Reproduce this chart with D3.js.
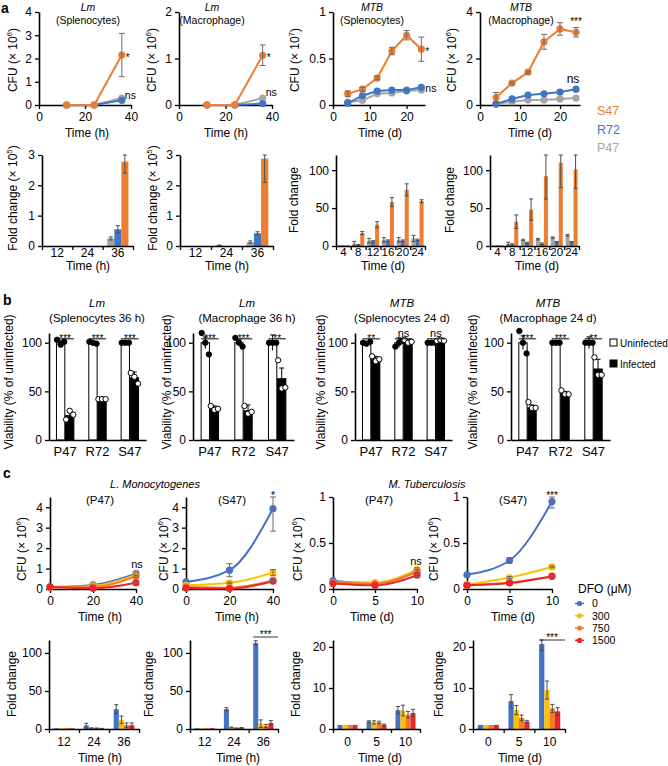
<!DOCTYPE html>
<html><head><meta charset="utf-8">
<script src="https://cdn.jsdelivr.net/npm/d3@7"></script>
<style>body{margin:0;background:#fff;}</style>
</head><body>
<script>
// ---------------- DATA ----------------
// Panel a (top): CFU time courses
const aLmHours = [12, 24, 36];
const aLmSpleS47 = [0, 0, 2.15], aLmSpleS47Err = [0, 0, 0.93];
const aLmSpleR72 = [0, 0, 0.2];
const aLmSpleP47 = [0, 0, 0.3];
const aLmMacS47 = [0, 0, 1.07], aLmMacS47Err = [0, 0, 0.22];
const aLmMacR72 = [0, 0, 0.03];
const aLmMacP47 = [0, 0, 0.15];
const aMtbDays = [4, 8, 12, 16, 20, 24];
const aMtbSpleS47 = [0.12, 0.17, 0.29, 0.58, 0.75, 0.60], aMtbSpleS47Err = [0.03, 0.02, 0.02, 0.04, 0.05, 0.13];
const aMtbSpleR72 = [0.02, 0.10, 0.15, 0.16, 0.16, 0.19];
const aMtbSpleP47 = [0.03, 0.05, 0.12, 0.13, 0.15, 0.16];
const aMtbMacS47 = [0.32, 0.94, 1.41, 2.72, 3.27, 3.13], aMtbMacS47Err = [0.22, 0.05, 0.05, 0.32, 0.27, 0.2];
const aMtbMacR72 = [0.05, 0.26, 0.43, 0.48, 0.56, 0.68];
const aMtbMacP47 = [0.04, 0.14, 0.21, 0.22, 0.26, 0.30];
const aStrains = ["S47", "R72", "P47"];

// Panel a (bottom): fold change
const aFoldLmHours = ["12", "24", "36"];
const aFoldLmSpleP47 = [0, 0, 0.25], aFoldLmSpleP47Err = [0, 0, 0.05];
const aFoldLmSpleR72 = [0, 0, 0.55], aFoldLmSpleR72Err = [0, 0, 0.12];
const aFoldLmSpleS47 = [0, 0, 2.78], aFoldLmSpleS47Err = [0, 0, 0.38];
const aFoldLmMacP47 = [0, 0.02, 0.13], aFoldLmMacP47Err = [0, 0.01, 0.04];
const aFoldLmMacR72 = [0, 0, 0.42], aFoldLmMacR72Err = [0, 0, 0.05];
const aFoldLmMacS47 = [0, 0, 2.88], aFoldLmMacS47Err = [0, 0, 0.78];
const aFoldMtbDays = ["4", "8", "12", "16", "20", "24"];
const aFoldMtbSpleP47 = [1, 3, 7, 8, 8, 10], aFoldMtbSpleP47Err = [0, 3, 3, 3, 3, 4];
const aFoldMtbSpleR72 = [1, 1, 6, 7, 7, 8], aFoldMtbSpleR72Err = [0, 1, 1, 1, 1, 1];
const aFoldMtbSpleS47 = [1, 17, 28, 58, 74, 59], aFoldMtbSpleS47Err = [0, 2, 4, 6, 8, 2];
const aFoldMtbMacP47 = [1, 3, 8, 9, 11, 14], aFoldMtbMacP47Err = [0, 2, 1, 1, 1, 1];
const aFoldMtbMacR72 = [1, 2, 4, 3, 5, 5], aFoldMtbMacR72Err = [0, 1, 1, 1, 1, 1];
const aFoldMtbMacS47 = [1, 32, 48, 92, 110, 101], aFoldMtbMacS47Err = [0, 9, 14, 30, 33, 25];

// Panel b: viability
const bStrains = ["P47", "R72", "S47"];
const bLmSpleUninf = [100, 100, 100], bLmSpleUninfErr = [2, 1, 0];
const bLmSpleInf = [25, 41, 64], bLmSpleInfErr = [4, 1, 6];
const bLmSpleUninfDots = [[103, 98, 101], [101, 100, 99], [100, 100, 100]];
const bLmSpleInfDots = [[21, 30, 26], [42, 42, 42], [69, 65, 58]];
const bLmSpleSig = ["***", "***", "***"];
const bLmMacUninf = [100, 100, 100], bLmMacUninfErr = [6, 3, 8];
const bLmMacInf = [33, 30, 63], bLmMacInfErr = [2, 6, 11];
const bLmMacUninfDots = [[110, 100, 88], [105, 100, 96], [100, 100, 100]];
const bLmMacInfDots = [[35, 31, 32], [35, 27, 29], [82, 53, 54]];
const bLmMacSig = ["***", "***", "**"];
const bMtbSpleUninf = [100, 100, 100], bMtbSpleUninfErr = [1, 5, 0];
const bMtbSpleInf = [83, 101, 102], bMtbSpleInfErr = [3, 2, 1];
const bMtbSpleUninfDots = [[100, 99, 101], [96, 100, 102], [100, 100, 100]];
const bMtbSpleInfDots = [[86, 81, 83], [103, 100, 101], [102, 103, 102]];
const bMtbSpleSig = ["**", "ns", "ns"];
const bMtbMacUninf = [100, 100, 100], bMtbMacUninfErr = [7, 1, 6];
const bMtbMacInf = [33, 48, 73], bMtbMacInfErr = [3, 2, 10];
const bMtbMacUninfDots = [[112, 100, 89], [100, 100, 100], [100, 100, 100]];
const bMtbMacInfDots = [[39, 33, 33], [51, 47, 47], [85, 67, 67]];
const bMtbMacSig = ["***", "***", "**"];
const bLegend = ["Uninfected", "Infected"];

// Panel c (top): CFU with DFO
const cDfoDoses = ["0", "300", "750", "1500"];
const cLmHours = [0, 20, 40];
const cLmP47D0 = [0.10, 0.20, 0.75], cLmP47D0Err = [0, 0, 0.12];
const cLmP47D300 = [0.08, 0.15, 0.69], cLmP47D300Err = [0, 0, 0.1];
const cLmP47D750 = [0.08, 0.10, 0.62], cLmP47D750Err = [0, 0, 0.05];
const cLmP47D1500 = [0.10, 0.04, 0.31], cLmP47D1500Err = [0, 0, 0.04];
const cLmS47D0 = [0.35, 0.92, 3.93], cLmS47D0Err = [0, 0.32, 1.1];
const cLmS47D300 = [0.18, 0.30, 0.80], cLmS47D300Err = [0, 0.04, 0.15];
const cLmS47D750 = [0.10, 0.06, 0.42], cLmS47D750Err = [0, 0, 0.05];
const cLmS47D1500 = [0.05, 0.02, 0.38], cLmS47D1500Err = [0, 0, 0.05];
const cMtbDays = [0, 5, 10];
const cMtbP47D0 = [0.09, 0.06, 0.19], cMtbP47D0Err = [0, 0, 0.02];
const cMtbP47D300 = [0.07, 0.07, 0.21], cMtbP47D300Err = [0, 0, 0.02];
const cMtbP47D750 = [0.07, 0.06, 0.19], cMtbP47D750Err = [0, 0, 0.02];
const cMtbP47D1500 = [0.06, 0.04, 0.15], cMtbP47D1500Err = [0, 0, 0.02];
const cMtbS47D0 = [0.155, 0.31, 0.95], cMtbS47D0Err = [0, 0.03, 0.07];
const cMtbS47D300 = [0.05, 0.125, 0.24], cMtbS47D300Err = [0, 0.01, 0.01];
const cMtbS47D750 = [0.04, 0.07, 0.14], cMtbS47D750Err = [0, 0, 0.01];
const cMtbS47D1500 = [0.04, 0.065, 0.137], cMtbS47D1500Err = [0, 0, 0.01];

// Panel c (bottom): fold change with DFO
const cFoldLmHours = ["12", "24", "36"];
const cFoldLmP47D0 = [1, 4.5, 26], cFoldLmP47D0Err = [0, 3, 6];
const cFoldLmP47D300 = [1, 1, 12], cFoldLmP47D300Err = [0, 0.5, 5];
const cFoldLmP47D750 = [1, 1, 5], cFoldLmP47D750Err = [0, 0.3, 3];
const cFoldLmP47D1500 = [1, 0.5, 5], cFoldLmP47D1500Err = [0, 0.3, 3];
const cFoldLmS47D0 = [1, 26, 113], cFoldLmS47D0Err = [0, 2, 3];
const cFoldLmS47D300 = [1, 2, 7], cFoldLmS47D300Err = [0, 0.5, 5];
const cFoldLmS47D750 = [1, 1, 4], cFoldLmS47D750Err = [0, 0.3, 2];
const cFoldLmS47D1500 = [1, 1.5, 8], cFoldLmS47D1500Err = [0, 0.5, 3];
const cFoldMtbDays = ["0", "5", "10"];
const cFoldMtbP47D0 = [1, 1.8, 4.6], cFoldMtbP47D0Err = [0, 0.2, 0.9];
const cFoldMtbP47D300 = [1, 1.6, 4.5], cFoldMtbP47D300Err = [0, 0.4, 1.3];
const cFoldMtbP47D750 = [1, 1.6, 3.5], cFoldMtbP47D750Err = [0, 0.3, 0.8];
const cFoldMtbP47D1500 = [1, 1.0, 3.9], cFoldMtbP47D1500Err = [0, 0.2, 0.9];
const cFoldMtbS47D0 = [1, 6.8, 20.7], cFoldMtbS47D0Err = [0, 1.6, 1.5];
const cFoldMtbS47D300 = [1, 4.6, 9.5], cFoldMtbS47D300Err = [0, 1.1, 2.2];
const cFoldMtbS47D750 = [1, 2.7, 5.0], cFoldMtbS47D750Err = [0, 0.7, 1.0];
const cFoldMtbS47D1500 = [1, 1.8, 4.3], cFoldMtbS47D1500Err = [0, 0.3, 0.9];

// ---------------- STYLE ----------------
const FF = "'Liberation Sans', Arial, Helvetica, sans-serif";
const COL = {S47: "#ED7D31", R72: "#4472C4", P47: "#A5A5A5"};
const DCOL = ["#4472C4", "#FFC000", "#ED7D31", "#E8262B"];

const svg = d3.select("body").append("svg").attr("width", 668).attr("height", 766)
  .style("font-family", FF).style("display", "block");

function styleAxis(g) {
  g.attr("font-family", FF).attr("font-size", 12);
  g.select(".domain").attr("stroke", "#000").attr("stroke-width", 1.6);
  g.selectAll(".tick line").attr("stroke", "#000").attr("stroke-width", 1.3);
  g.selectAll(".tick text").attr("fill", "#000");
}
function txt(x, y, s, o = {}) {
  return svg.append("text").attr("x", x).attr("y", y)
    .attr("text-anchor", o.anchor || "middle").attr("font-size", o.size || 12)
    .attr("font-style", o.italic ? "italic" : null).attr("font-weight", o.bold ? "bold" : null)
    .attr("fill", o.color || "#000").text(s);
}
function yLabel(cx, cy, main, sup, tail) {
  const t = svg.append("text").attr("transform", `translate(${cx},${cy}) rotate(-90)`)
    .attr("text-anchor", "middle").attr("font-size", 12).attr("dy", "0.35em");
  t.append("tspan").text(main);
  if (sup) {
    t.append("tspan").attr("font-size", 8).attr("dy", -5).text(sup);
    t.append("tspan").attr("dy", 5).text(tail);
  }
}
const fmt = d => String(d);

function lineChart(o) {
  const x = d3.scaleLinear().domain(o.xd).range(o.xr);
  const y = d3.scaleLinear().domain(o.yd).range(o.yr);
  const g = svg.append("g");
  g.append("g").attr("transform", `translate(0,${o.yr[0]})`)
    .call(d3.axisBottom(x).tickValues(o.xt).tickSize(4).tickSizeOuter(0).tickFormat(fmt)).call(styleAxis);
  g.append("g").attr("transform", `translate(${o.xr[0]},0)`)
    .call(d3.axisLeft(y).tickValues(o.yt).tickSize(4).tickSizeOuter(0).tickFormat(fmt)).call(styleAxis);
  const line = d3.line().x(d => x(d.t)).y(d => y(d.v)).curve(o.curve || d3.curveLinear);
  o.series.forEach(s => {
    const pts = s.t.map((t, i) => ({t, v: s.v[i], e: s.e ? s.e[i] : 0}));
    g.append("path").attr("d", line(pts)).attr("fill", "none").attr("stroke", s.c).attr("stroke-width", 2);
    g.selectAll(null).data(pts).join("circle").attr("cx", d => x(d.t)).attr("cy", d => y(d.v))
      .attr("r", 3.6).attr("fill", s.c);
    g.selectAll(null).data(pts.filter(d => d.e > 0)).join("path")
      .attr("d", d => {
        const X = x(d.t), a = y(Math.min(d.v + d.e, o.yd[1])), b = y(Math.max(d.v - d.e, 0));
        return `M${X},${a}V${b}M${X - 3},${a}H${X + 3}M${X - 3},${b}H${X + 3}`;
      }).attr("stroke", "#6b6b6b").attr("stroke-width", 1).attr("fill", "none");
  });
  return {x, y};
}

function barChart(o) {
  const x0 = d3.scaleBand().domain(o.cats).range(o.xr);
  const y = d3.scaleLinear().domain(o.yd).range(o.yr);
  const n = o.series.length;
  const x1 = d3.scaleBand().domain(d3.range(n)).range([0, x0.bandwidth()]).paddingOuter(o.po).paddingInner(o.pi || 0);
  const g = svg.append("g");
  o.series.forEach((s, k) => {
    const data = o.cats.map((c, i) => ({c, v: s.v[i], e: s.e ? s.e[i] : 0}));
    g.selectAll(null).data(data).join("rect")
      .attr("x", d => x0(d.c) + x1(k)).attr("width", x1.bandwidth())
      .attr("y", d => y(d.v)).attr("height", d => y(0) - y(d.v)).attr("fill", s.c);
  });
  o.series.forEach((s, k) => {
    const data = o.cats.map((c, i) => ({c, v: s.v[i], e: s.e ? s.e[i] : 0})).filter(d => d.e > 0);
    g.selectAll(null).data(data).join("path")
      .attr("d", d => {
        const X = x0(d.c) + x1(k) + x1.bandwidth() / 2;
        const a = y(Math.min(d.v + d.e, o.yd[1])), b = y(Math.max(d.v - d.e, 0));
        return `M${X},${a}V${b}M${X - 2},${a}H${X + 2}M${X - 2},${b}H${X + 2}`;
      }).attr("stroke", "#4d4d4d").attr("stroke-width", 1).attr("fill", "none");
  });
  // x axis: boundary ticks + category labels
  const xb = d3.scaleLinear().domain([0, o.cats.length]).range(o.xr);
  g.append("g").attr("transform", `translate(0,${o.yr[0]})`)
    .call(d3.axisBottom(xb).ticks(o.cats.length).tickSize(4).tickSizeOuter(0).tickFormat("")).call(styleAxis);
  const gl = g.append("g").attr("transform", `translate(0,${o.yr[0]})`)
    .call(d3.axisBottom(x0).tickSize(0).tickPadding(o.tp)).call(styleAxis);
  gl.attr("font-size", o.fs || 12);
  gl.select(".domain").remove();
  g.append("g").attr("transform", `translate(${o.xr[0]},0)`)
    .call(d3.axisLeft(y).tickValues(o.yt).tickSize(4).tickSizeOuter(0).tickFormat(fmt)).call(styleAxis);
  return {x0, x1, y};
}

function viaChart(o) {
  const x0 = d3.scaleBand().domain(bStrains).range(o.xr);
  const y = d3.scaleLinear().domain([0, 110]).range([440, 333]);
  const g = svg.append("g");
  bStrains.forEach((c, i) => {
    const cx = x0(c) + x0.bandwidth() / 2;
    const x1 = d3.scaleBand().domain(bLegend).range([cx - 8.7, cx + 8.7]).paddingInner(0.08);
    const w = x1.bandwidth();
    const bars = [
      {k: bLegend[0], v: o.un[i], e: o.unE[i], dots: o.unD[i], fill: "#fff"},
      {k: bLegend[1], v: o.inf[i], e: o.infE[i], dots: o.infD[i], fill: "#000"}
    ];
    bars.forEach(b => {
      const bx = x1(b.k);
      g.append("rect").attr("x", bx).attr("y", y(b.v)).attr("width", w).attr("height", y(0) - y(b.v))
        .attr("fill", b.fill).attr("stroke", "#000").attr("stroke-width", 1);
      const X = bx + w / 2;
      g.append("path").attr("d", `M${X},${y(b.v + b.e)}V${y(b.v - b.e)}M${X - 2.5},${y(b.v + b.e)}H${X + 2.5}`)
        .attr("stroke", "#000").attr("stroke-width", 1).attr("fill", "none");
      g.selectAll(null).data(b.dots).join("circle")
        .attr("cx", (d, j) => X + (j - 1) * 3.6).attr("cy", d => y(d)).attr("r", 2.7)
        .attr("fill", b.fill === "#000" ? "#fff" : "#000").attr("stroke", "#000").attr("stroke-width", 1);
    });
    const ly = y(104);
    g.append("line").attr("x1", x1(bLegend[0])).attr("x2", x1(bLegend[1]) + w).attr("y1", ly).attr("y2", ly)
      .attr("stroke", "#000").attr("stroke-width", 1);
    const s = o.sig[i];
    g.append("text").attr("x", cx).attr("y", s === "ns" ? ly - 2 : ly + 3.5).attr("text-anchor", "middle")
      .attr("font-size", s === "ns" ? 11 : 10).text(s);
  });
  const gx = g.append("g").attr("transform", "translate(0,440)")
    .call(d3.axisBottom(x0).tickSize(0).tickSizeOuter(0).tickPadding(7)).call(styleAxis);
  gx.attr("font-size", 13);
  g.append("g").attr("transform", `translate(${o.xr[0]},0)`)
    .call(d3.axisLeft(y).tickValues([0, 50, 100]).tickSize(4).tickSizeOuter(0).tickFormat(fmt)).call(styleAxis);
}

// ---------------- PANEL a top ----------------
txt(1, 13, "a", {anchor: "start", bold: true, size: 14});
const strainSeries = (t, p, r, s, se) => [
  {t, v: p, c: COL.P47}, {t, v: r, c: COL.R72}, {t, v: s, e: se, c: COL.S47}];

let A1 = lineChart({xr: [39, 131], xd: [0, 40], xt: [0, 20, 40], yr: [105, 12], yd: [0, 4], yt: [0, 1, 2, 3, 4],
  series: strainSeries(aLmHours, aLmSpleP47, aLmSpleR72, aLmSpleS47, aLmSpleS47Err)});
txt(A1.x(36) + 4, A1.y(2.15) + 6, "*", {anchor: "start", size: 10});
txt(A1.x(36) + 3, A1.y(0.3) + 1, "ns", {anchor: "start", size: 10.5});
let A2 = lineChart({xr: [179, 272], xd: [0, 40], xt: [0, 20, 40], yr: [105, 12], yd: [0, 2], yt: [0, 1, 2],
  series: strainSeries(aLmHours, aLmMacP47, aLmMacR72, aLmMacS47, aLmMacS47Err)});
txt(A2.x(36) + 4, A2.y(1.07) + 6, "*", {anchor: "start", size: 10});
txt(A2.x(36) + 3, A2.y(0.15) - 2, "ns", {anchor: "start", size: 10.5});
let A3 = lineChart({xr: [333, 425], xd: [0, 25], xt: [0, 10, 20], yr: [105, 12], yd: [0, 1], yt: [0, 0.5, 1],
  series: strainSeries(aMtbDays, aMtbSpleP47, aMtbSpleR72, aMtbSpleS47, aMtbSpleS47Err)});
txt(A3.x(24) + 4, A3.y(0.60) + 6, "*", {anchor: "start", size: 10});
txt(A3.x(24) + 4, A3.y(0.18) + 4, "ns", {anchor: "start", size: 10.5});
let A4 = lineChart({xr: [480, 580], xd: [0, 25], xt: [0, 10, 20], yr: [105, 12], yd: [0, 4], yt: [0, 2, 4],
  series: strainSeries(aMtbDays, aMtbMacP47, aMtbMacR72, aMtbMacS47, aMtbMacS47Err)});
txt(A4.x(24), A4.y(3.13) - 7, "***", {size: 10});
txt(A4.x(24) - 3, A4.y(0.68) - 6, "ns", {size: 12});

[[88, "Lm", "(Splenocytes)"], [212, "Lm", "(Macrophage)"], [372, "MTB", "(Splenocytes)"], [521, "MTB", "(Macrophage)"]]
  .forEach(([x, a, b]) => { txt(x, 11, a, {italic: true, size: 10.5}); txt(x, 24, b, {size: 10.5}); });
yLabel(13, 60, "CFU (× 10", "6", ")");
yLabel(152, 60, "CFU (× 10", "6", ")");
yLabel(295, 60, "CFU (× 10", "7", ")");
yLabel(452, 60, "CFU (× 10", "6", ")");
txt(87, 137, "Time (h)"); txt(226, 137, "Time (h)"); txt(380, 137, "Time (d)"); txt(530, 137, "Time (d)");
aStrains.forEach((s, i) => txt(597, 115 + i * 18.5, s, {anchor: "start", size: 12.5, color: COL[s]}));

// ---------------- PANEL a bottom ----------------
const foldSeries = (p, pe, r, re, s, se) => [{v: p, e: pe, c: COL.P47}, {v: r, e: re, c: COL.R72}, {v: s, e: se, c: COL.S47}];
barChart({xr: [42, 133], cats: aFoldLmHours, yr: [246, 155], yd: [0, 3], yt: [0, 1, 2, 3], po: 0.65, tp: 2,
  series: foldSeries(aFoldLmSpleP47, aFoldLmSpleP47Err, aFoldLmSpleR72, aFoldLmSpleR72Err, aFoldLmSpleS47, aFoldLmSpleS47Err)});
barChart({xr: [180, 273], cats: aFoldLmHours, yr: [246, 155], yd: [0, 3], yt: [0, 1, 2, 3], po: 0.65, tp: 2,
  series: foldSeries(aFoldLmMacP47, aFoldLmMacP47Err, aFoldLmMacR72, aFoldLmMacR72Err, aFoldLmMacS47, aFoldLmMacS47Err)});
barChart({xr: [336, 425], cats: aFoldMtbDays, yr: [246, 155], yd: [0, 120], yt: [0, 50, 100], po: 0.35, tp: 2, fs: 11.5,
  series: foldSeries(aFoldMtbSpleP47, aFoldMtbSpleP47Err, aFoldMtbSpleR72, aFoldMtbSpleR72Err, aFoldMtbSpleS47, aFoldMtbSpleS47Err)});
barChart({xr: [490, 579], cats: aFoldMtbDays, yr: [246, 155], yd: [0, 120], yt: [0, 50, 100], po: 0.35, tp: 2, fs: 11.5,
  series: foldSeries(aFoldMtbMacP47, aFoldMtbMacP47Err, aFoldMtbMacR72, aFoldMtbMacR72Err, aFoldMtbMacS47, aFoldMtbMacS47Err)});
yLabel(13, 198, "Fold change (× 10", "5", ")");
yLabel(153, 198, "Fold change (× 10", "5", ")");
yLabel(294, 200, "Fold change");
yLabel(450, 200, "Fold change");
txt(88, 270, "Time (h)"); txt(227, 270, "Time (h)"); txt(383, 270, "Time (d)"); txt(537, 270, "Time (d)");

// ---------------- PANEL b ----------------
txt(3, 305, "b", {anchor: "start", bold: true, size: 14});
viaChart({xr: [49, 146], un: bLmSpleUninf, unE: bLmSpleUninfErr, inf: bLmSpleInf, infE: bLmSpleInfErr,
  unD: bLmSpleUninfDots, infD: bLmSpleInfDots, sig: bLmSpleSig});
viaChart({xr: [193, 294], un: bLmMacUninf, unE: bLmMacUninfErr, inf: bLmMacInf, infE: bLmMacInfErr,
  unD: bLmMacUninfDots, infD: bLmMacInfDots, sig: bLmMacSig});
viaChart({xr: [355, 452], un: bMtbSpleUninf, unE: bMtbSpleUninfErr, inf: bMtbSpleInf, infE: bMtbSpleInfErr,
  unD: bMtbSpleUninfDots, infD: bMtbSpleInfDots, sig: bMtbSpleSig});
viaChart({xr: [511, 610], un: bMtbMacUninf, unE: bMtbMacUninfErr, inf: bMtbMacInf, infE: bMtbMacInfErr,
  unD: bMtbMacUninfDots, infD: bMtbMacInfDots, sig: bMtbMacSig});
[[97, "Lm", "(Splenocytes 36 h)"], [247, "Lm", "(Macrophage 36 h)"], [402, "MTB", "(Splenocytes 24 d)"], [548, "MTB", "(Macrophage 24 d)"]]
  .forEach(([x, a, b]) => { txt(x, 307, a, {italic: true, size: 11.5}); txt(x, 322, b, {size: 11.5}); });
[9, 167, 321, 473].forEach(x => yLabel(x, 382, "Viability (% of uninfected)"));
svg.append("rect").attr("x", 610).attr("y", 339).attr("width", 7).attr("height", 7).attr("fill", "#fff").attr("stroke", "#000");
svg.append("rect").attr("x", 610).attr("y", 360).attr("width", 7).attr("height", 7).attr("fill", "#000").attr("stroke", "#000");
txt(620, 347, bLegend[0], {anchor: "start", size: 10});
txt(620, 368, bLegend[1], {anchor: "start", size: 10});

// ---------------- PANEL c top ----------------
txt(3, 478, "c", {anchor: "start", bold: true, size: 14});
txt(155, 488, "L. Monocytogenes", {italic: true, size: 11});
txt(427, 488, "M. Tuberculosis", {italic: true, size: 11});
const doseSeries = (t, arr) => arr.map((a, k) => ({t, v: a[0], e: a[1], c: DCOL[k]}));
const curve = d3.curveMonotoneX;
let C1 = lineChart({xr: [50, 136], xd: [0, 40], xt: [0, 20, 40], yr: [589, 497], yd: [0, 4.5], yt: [0, 1, 2, 3, 4], curve,
  series: doseSeries(cLmHours, [[cLmP47D0, cLmP47D0Err], [cLmP47D300, cLmP47D300Err], [cLmP47D750, cLmP47D750Err], [cLmP47D1500, cLmP47D1500Err]])});
txt(C1.x(40) + 1, C1.y(0.87) - 3, "ns", {size: 11});
let C2 = lineChart({xr: [186, 273], xd: [0, 40], xt: [0, 20, 40], yr: [589, 497], yd: [0, 4.5], yt: [0, 1, 2, 3, 4], curve,
  series: doseSeries(cLmHours, [[cLmS47D0, cLmS47D0Err], [cLmS47D300, cLmS47D300Err], [cLmS47D750, cLmS47D750Err], [cLmS47D1500, cLmS47D1500Err]])});
txt(C2.x(40), 499, "*", {size: 10});
let C3 = lineChart({xr: [333, 417], xd: [0, 10], xt: [0, 5, 10], yr: [589, 497], yd: [0, 1], yt: [0, 0.5, 1], curve,
  series: doseSeries(cMtbDays, [[cMtbP47D0, cMtbP47D0Err], [cMtbP47D300, cMtbP47D300Err], [cMtbP47D750, cMtbP47D750Err], [cMtbP47D1500, cMtbP47D1500Err]])});
txt(C3.x(10) - 1, C3.y(0.23) - 3, "ns", {size: 11});
let C4 = lineChart({xr: [467, 552], xd: [0, 10], xt: [0, 5, 10], yr: [589, 497], yd: [0, 1], yt: [0, 0.5, 1], curve,
  series: doseSeries(cMtbDays, [[cMtbS47D0, cMtbS47D0Err], [cMtbS47D300, cMtbS47D300Err], [cMtbS47D750, cMtbS47D750Err], [cMtbS47D1500, cMtbS47D1500Err]])});
txt(C4.x(10), 499, "***", {size: 10});
[[100, "(P47)"], [232, "(S47)"], [379, "(P47)"], [513, "(S47)"]].forEach(([x, s]) => txt(x, 504, s, {size: 11.5}));
yLabel(22, 549, "CFU (× 10", "6", ")");
yLabel(164, 549, "CFU (× 10", "6", ")");
yLabel(298, 549, "CFU (× 10", "6", ")");
yLabel(434, 549, "CFU (× 10", "6", ")");
txt(100, 621, "Time (h)"); txt(237, 621, "Time (h)"); txt(372, 621, "Time (d)"); txt(513, 621, "Time (d)");
// legend
txt(578, 593, "DFO (μM)", {anchor: "start", size: 12});
cDfoDoses.forEach((d, k) => {
  const yy = 603.5 + k * 12.3;
  svg.append("line").attr("x1", 575).attr("x2", 584).attr("y1", yy).attr("y2", yy).attr("stroke", DCOL[k]).attr("stroke-width", 1.5);
  svg.append("circle").attr("cx", 579.5).attr("cy", yy).attr("r", 2.6).attr("fill", DCOL[k]);
  txt(592, yy + 3.8, d, {anchor: "start", size: 10.5});
});

// ---------------- PANEL c bottom ----------------
const doseBars = arr => arr.map((a, k) => ({v: a[0], e: a[1], c: DCOL[k]}));
barChart({xr: [49, 139], cats: cFoldLmHours, yr: [729, 640], yd: [0, 117], yt: [0, 50, 100], po: 0.9, tp: 8,
  series: doseBars([[cFoldLmP47D0, cFoldLmP47D0Err], [cFoldLmP47D300, cFoldLmP47D300Err], [cFoldLmP47D750, cFoldLmP47D750Err], [cFoldLmP47D1500, cFoldLmP47D1500Err]])});
let CB2 = barChart({xr: [190, 278], cats: cFoldLmHours, yr: [729, 640], yd: [0, 117], yt: [0, 50, 100], po: 0.9, tp: 8,
  series: doseBars([[cFoldLmS47D0, cFoldLmS47D0Err], [cFoldLmS47D300, cFoldLmS47D300Err], [cFoldLmS47D750, cFoldLmS47D750Err], [cFoldLmS47D1500, cFoldLmS47D1500Err]])});
barChart({xr: [333, 420], cats: cFoldMtbDays, yr: [729, 640], yd: [0, 21.7], yt: [0, 10, 20], po: 0.9, tp: 8,
  series: doseBars([[cFoldMtbP47D0, cFoldMtbP47D0Err], [cFoldMtbP47D300, cFoldMtbP47D300Err], [cFoldMtbP47D750, cFoldMtbP47D750Err], [cFoldMtbP47D1500, cFoldMtbP47D1500Err]])});
let CB4 = barChart({xr: [473, 565], cats: cFoldMtbDays, yr: [729, 640], yd: [0, 21.7], yt: [0, 10, 20], po: 0.9, tp: 8,
  series: doseBars([[cFoldMtbS47D0, cFoldMtbS47D0Err], [cFoldMtbS47D300, cFoldMtbS47D300Err], [cFoldMtbS47D750, cFoldMtbS47D750Err], [cFoldMtbS47D1500, cFoldMtbS47D1500Err]])});
[[CB2, "36", 637], [CB4, "10", 640]].forEach(([c, cat, ly]) => {
  const x1 = c.x0(cat) + c.x1(0), x2 = c.x0(cat) + c.x0.bandwidth();
  svg.append("line").attr("x1", x1).attr("x2", x2).attr("y1", ly).attr("y2", ly).attr("stroke", "#000").attr("stroke-width", 0.8);
  txt((x1 + x2) / 2, ly + 1, "***", {size: 10});
});
yLabel(12, 684, "Fold change"); yLabel(149, 684, "Fold change"); yLabel(296, 684, "Fold change"); yLabel(439, 684, "Fold change");
txt(100, 762, "Time (h)"); txt(238, 762, "Time (h)"); txt(380, 762, "Time (d)"); txt(520, 762, "Time (d)");
</script>
</body></html>
